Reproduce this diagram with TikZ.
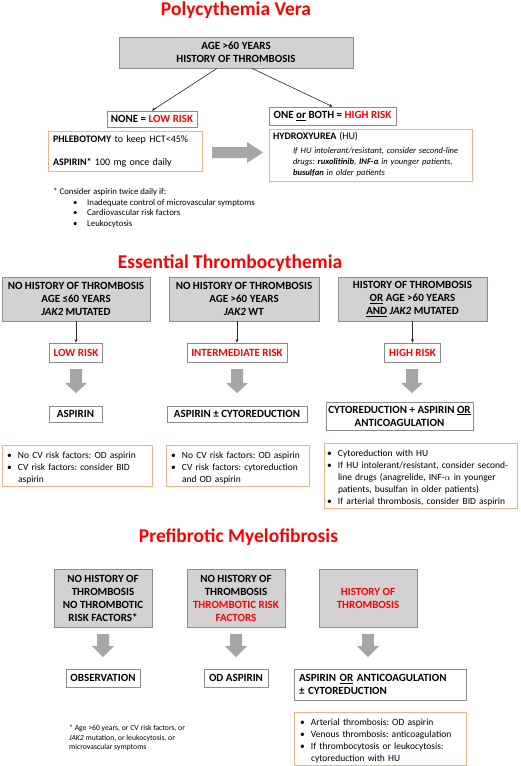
\documentclass[tikz,border=0pt]{standalone}
\usepackage{fontspec}
\setmainfont{Carlito}
\usetikzlibrary{arrows.meta}
\definecolor{tred}{HTML}{FF0000}
\definecolor{gfill}{HTML}{D3D1D1}
\definecolor{gline}{HTML}{8C8C8C}
\definecolor{oline}{HTML}{F4B183}
\definecolor{afill}{HTML}{A6A6A6}
\frenchspacing
\newcommand{\bitm}[1]{\par\noindent\makebox[11pt][l]{•}\parbox[t]{\dimexpr\hsize-11pt\relax}{\raggedright #1\par\xdef\tpd{\the\prevdepth}}\par\prevdepth=\tpd\relax}
\newcommand{\grayDown}[4]{\fill[afill] ({#1-6},#2) -- ({#1+6},#2) -- ({#1+6},#3) -- ({#1+11},#3) -- (#1,#4) -- ({#1-11},#3) -- ({#1-6},#3) -- cycle;}
\tikzset{
  ttl/.style={font=\fontsize{19.5}{22}\selectfont\bfseries, text=tred, inner sep=0pt, anchor=base},
  graybox/.style={draw=gline, fill=gfill, line width=0.8pt, align=center, font=\fontsize{11}{13}\selectfont\bfseries, inner sep=0pt},
  whitebox/.style={draw=gline, fill=white, line width=0.8pt, align=center, font=\fontsize{11}{13}\selectfont\bfseries, inner sep=0pt},
  notebox/.style={draw=oline, fill=white, line width=0.8pt, inner sep=0pt, align=left, font=\fontsize{9.5}{12}\selectfont},
  conn/.style={draw=black!85, line width=0.6pt, -{Stealth[length=3.5pt,width=3pt]}},
  fnote/.style={inner sep=0pt, anchor=north west, align=left},
}
\begin{document}
\begin{tikzpicture}[x=1pt,y=-1pt]
\useasboundingbox (0,0) rectangle (520,766);
\fill[white] (0,0) rectangle (520,766);

% ---------------- Polycythemia Vera ----------------
\node[ttl] (pvt) at (236,15.7) {Polycythemia Vera};
\node[graybox, minimum width=234, minimum height=31] (pvtop) at (236,52.5) {AGE >60 YEARS\\HISTORY OF THROMBOSIS};
\node[whitebox, minimum width=90, minimum height=16] (pvlow) at (152,119) {NONE = \textcolor{tred}{LOW RISK}};
\node[whitebox, minimum width=127, minimum height=18] (pvhigh) at (332.5,116) {ONE \underline{or} BOTH = \textcolor{tred}{HIGH RISK}};
\draw[conn] ([xshift=-19pt]pvtop.south) -- (pvlow.north);
\draw[conn] ([xshift=16pt]pvtop.south) -- (pvhigh.north);
\node[notebox, minimum width=154, minimum height=40, text width=144, font=\fontsize{10}{12}\selectfont] (pvlowtx) at (125,151)
  {\textbf{PHLEBOTOMY} to keep HCT<45\%\\[11pt]\textbf{ASPIRIN*} 100 mg once daily};
\fill[afill] (212,147) -- (247,147) -- (247,142) -- (263,152.5) -- (247,163) -- (247,158) -- (212,158) -- cycle;
\node[notebox, minimum width=203, minimum height=52, text width=195, font=\fontsize{8.6}{11}\selectfont] (pvhightx) at (370.5,155)
  {\mbox{\fontsize{10}{11}\selectfont\textbf{HYDROXYUREA} (HU)}\\[3pt]
   \mbox{\hspace*{20pt}\textit{If HU intolerant/resistant, consider second-line}}\\
   \mbox{\hspace*{20pt}\textit{drugs: \textbf{ruxolitinib}, \textbf{INF-α} in younger patients,}}\\
   \mbox{\hspace*{20pt}\textit{\textbf{busulfan} in older patients}}};
\node[fnote, font=\fontsize{8.8}{10.5}\selectfont] (pvfn) at (53,188.5)
  {* Consider aspirin twice daily if:\\
   \hspace*{20pt}\makebox[14pt][l]{•}Inadequate control of microvascular symptoms\\
   \hspace*{20pt}\makebox[14pt][l]{•}Cardiovascular risk factors\\
   \hspace*{20pt}\makebox[14pt][l]{•}Leukocytosis};

% ---------------- Essential Thrombocythemia ----------------
\node[ttl] (ett) at (230,268.6) {Essential Thrombocythemia};
\node[graybox, minimum width=148, minimum height=44] (et1) at (76,299) {NO HISTORY OF THROMBOSIS\\AGE ≤60 YEARS\\\textit{JAK2} MUTATED};
\node[graybox, minimum width=150, minimum height=44] (et2) at (244,299) {NO HISTORY OF THROMBOSIS\\AGE >60 YEARS\\\textit{JAK2} WT};
\node[graybox, minimum width=149, minimum height=44] (et3) at (412.5,299) {HISTORY OF THROMBOSIS\\\underline{OR} AGE >60 YEARS\\\underline{AND} \textit{JAK2} MUTATED};
\node[whitebox, minimum width=53, minimum height=19, text=tred] (etlow) at (76,352.5) {LOW RISK};
\node[whitebox, minimum width=100, minimum height=19, text=tred] (etmid) at (237,352.5) {INTERMEDIATE RISK};
\node[whitebox, minimum width=56, minimum height=19, text=tred] (ethigh) at (412.5,352.5) {HIGH RISK};
\draw[conn] (et1.south) -- (etlow.north);
\draw[conn] (et2.south -| etmid.north) -- (etmid.north);
\draw[conn] (et3.south) -- (ethigh.north);
\grayDown{76}{369}{383}{393}
\grayDown{237}{369}{383}{393}
\grayDown{412}{369}{383}{393}
\node[whitebox, minimum width=53, minimum height=16] (ettx1) at (75.5,414) {ASPIRIN};
\node[whitebox, minimum width=140, minimum height=16] (ettx2) at (237,414) {ASPIRIN ± CYTOREDUCTION};
\node[whitebox, minimum width=147, minimum height=28] (ettx3) at (399.5,416) {CYTOREDUCTION + ASPIRIN \underline{OR}\\ANTICOAGULATION};
\node[notebox, minimum width=150, minimum height=41, text width=140] (etn1) at (77,465.5)
  {\bitm{No CV risk factors: OD aspirin}\bitm{CV risk factors: consider BID\newline aspirin}};
\node[notebox, minimum width=143, minimum height=41, text width=133] (etn2) at (237.5,465.5)
  {\bitm{No CV risk factors: OD aspirin}\bitm{CV risk factors: cytoreduction\newline and OD aspirin}};
\node[notebox, minimum width=193, minimum height=65, text width=187] (etn3) at (420.5,475.5)
  {\bitm{Cytoreduction with HU}\bitm{\mbox{If HU intolerant/resistant, consider second-}\newline\mbox{line drugs (anagrelide, INF-$\alpha$ in younger}\newline\mbox{patients, busulfan in older patients)}}\bitm{\mbox{If arterial thrombosis, consider BID aspirin}}};

% ---------------- Prefibrotic Myelofibrosis ----------------
\node[ttl] (pmt) at (238.5,542) {Prefibrotic Myelofibrosis};
\node[graybox, minimum width=98, minimum height=58] (pm1) at (103,598) {NO HISTORY OF\\THROMBOSIS\\NO THROMBOTIC\\RISK FACTORS*};
\node[graybox, minimum width=98, minimum height=58] (pm2) at (236,598) {NO HISTORY OF\\THROMBOSIS\\\textcolor{tred}{THROMBOTIC RISK}\\\textcolor{tred}{FACTORS}};
\node[graybox, minimum width=98, minimum height=58, text=tred] (pm3) at (368,598) {HISTORY OF\\THROMBOSIS};
\grayDown{103}{634}{646}{657}
\grayDown{236}{634}{646}{657}
\grayDown{368}{634}{646}{657}
\node[whitebox, minimum width=74, minimum height=18] (pmtx1) at (103,678) {OBSERVATION};
\node[whitebox, minimum width=64, minimum height=18] (pmtx2) at (236,678) {OD ASPIRIN};
\node[whitebox, minimum width=172, minimum height=31, text width=162, align=left] (pmtx3) at (380,684.5) {ASPIRIN \underline{OR} ANTICOAGULATION\\± CYTOREDUCTION};
\node[notebox, minimum width=172, minimum height=53, text width=160] (pmn) at (380,738.5)
  {\bitm{Arterial thrombosis: OD aspirin}\bitm{Venous thrombosis: anticoagulation}\bitm{If thrombocytosis or leukocytosis:\newline cytoreduction with HU}};
\node[fnote, font=\fontsize{7.7}{9.5}\selectfont] (pmfn) at (69,725)
  {* Age >60 years, or CV risk factors, or\\\textit{JAK2} mutation, or leukocytosis, or\\microvascular symptoms};
\end{tikzpicture}
\end{document}
